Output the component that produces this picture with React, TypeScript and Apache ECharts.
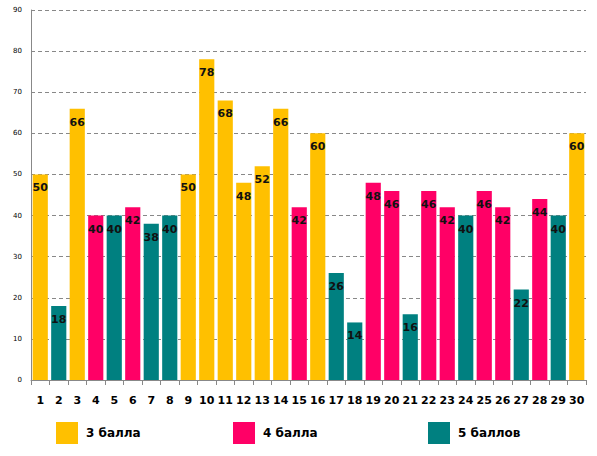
import React, { useEffect, useRef } from "react";
import * as echarts from "echarts";

const categories = Array.from({ length: 30 }, (_, i) => String(i + 1));
const values = [50, 18, 66, 40, 40, 42, 38, 40, 50, 78, 68, 48, 52, 66, 42, 60, 26, 14, 48, 46, 16, 46, 42, 40, 46, 42, 22, 44, 40, 60];
const grades = [3, 5, 3, 4, 5, 4, 5, 5, 3, 3, 3, 3, 3, 3, 4, 3, 5, 5, 4, 4, 5, 4, 4, 5, 4, 4, 5, 4, 5, 3];
const seriesNames = ["3 балла", "4 балла", "5 баллов"];
const seriesGrades = [3, 4, 5];
const colors = ["#FFC000", "#FF0066", "#008080"];
const yTicks = [0, 10, 20, 30, 40, 50, 60, 70, 80, 90];

export default function App() {
  const ref = useRef<HTMLDivElement>(null);
  useEffect(() => {
    const chart = echarts.init(ref.current!, null, { renderer: "svg" });
    const font = "DejaVu Sans";
    const legendX = [56, 233, 428];
    chart.setOption({
      animation: false,
      textStyle: { fontFamily: font },
      grid: { left: 31, right: 11, top: 10, bottom: 76 },
      legend: seriesNames.map((n, i) => ({
        data: [n],
        left: legendX[i],
        top: 422,
        padding: 0,
        itemWidth: 22,
        itemHeight: 22,
        icon: "rect",
        textStyle: { fontFamily: font, fontSize: 12, fontWeight: "bold", color: "#000", padding: [0, 0, 0, 3] },
      })),
      xAxis: {
        type: "category",
        data: categories,
        axisLine: { lineStyle: { color: "#888", width: 1 } },
        axisTick: { show: true, alignWithLabel: false, length: 5, lineStyle: { color: "#888" } },
        axisLabel: { fontFamily: font, fontSize: 11, fontWeight: "bold", color: "#000", margin: 15, interval: 0 },
      },
      yAxis: {
        type: "value",
        min: yTicks[0],
        max: yTicks[yTicks.length - 1],
        interval: 10,
        axisLine: { show: true, lineStyle: { color: "#888" } },
        axisTick: { show: false },
        axisLabel: { fontFamily: font, fontSize: 7, color: "#000", margin: 9 },
        splitLine: { lineStyle: { color: "#888", type: [4, 3] } },
      },
      series: seriesNames.map((n, si) => ({
        name: n,
        type: "bar",
        stack: "all",
        barCategoryGap: "18%",
        itemStyle: { color: colors[si] },
        label: {
          show: true,
          position: "insideTop",
          distance: 8,
          fontFamily: font,
          fontSize: 11,
          fontWeight: "bold",
          color: "#111",
        },
        data: values.map((v, i) => (grades[i] === seriesGrades[si] ? v : "-")),
      })),
    });
    return () => chart.dispose();
  }, []);
  return <div ref={ref} style={{ width: 597, height: 456, position: "absolute", left: 0, top: 0 }} />;
}
